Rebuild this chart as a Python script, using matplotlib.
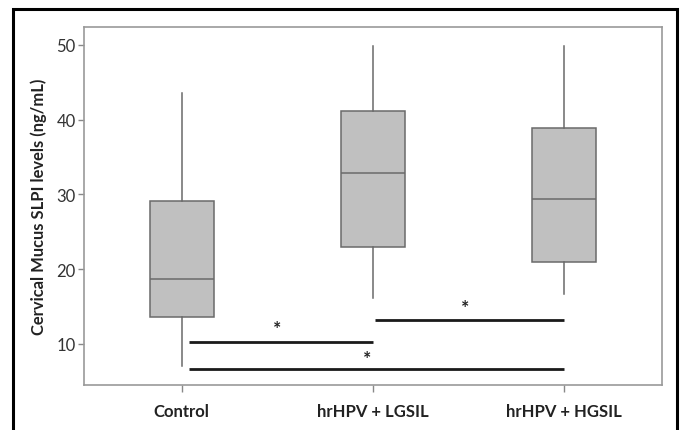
import matplotlib
matplotlib.use('Agg')
import matplotlib.pyplot as plt
from matplotlib.patches import Rectangle

# summary stats (ng/mL)
groups = ['Control', 'hrHPV + LGSIL', 'hrHPV + HGSIL']
whislo = [7.1, 16.2, 16.7]
q1 = [13.6, 23.0, 21.0]
med = [18.7, 32.9, 29.4]
q3 = [29.1, 41.2, 38.9]
whishi = [43.6, 49.8, 49.8]

# significance bars: (x start, x end, y level, star y)
sig_x0 = [1.04, 2.01, 1.04]
sig_x1 = [2.0, 3.0, 3.0]
sig_y = [10.2, 13.2, 6.6]
star_x = [1.5, 2.48, 1.97]
star_y = [12.0, 14.9, 8.0]

plt.rcParams['font.family'] = ['Lato', 'DejaVu Sans']

W, H = 682, 431
fig = plt.figure(figsize=(W / 100, H / 100), dpi=100)

# black outer frame (bottom edge runs off the image)
fig.patches.append(Rectangle((13 / W, -0.05), 664 / W, (H - 10) / H + 0.05,
                             transform=fig.transFigure, fill=False,
                             edgecolor='black', linewidth=2.2))

ax = fig.add_axes([84 / W, 45 / H, 578 / W, 358 / H])

stats = []
for i in range(len(groups)):
    stats.append({'label': groups[i], 'whislo': whislo[i], 'q1': q1[i],
                  'med': med[i], 'q3': q3[i], 'whishi': whishi[i], 'fliers': []})

gray = '#6a6a6a'
ax.bxp(stats, positions=[1, 2, 3], widths=0.335, patch_artist=True,
       showcaps=False,
       boxprops=dict(facecolor='#c0c0c0', edgecolor=gray, linewidth=1.1),
       medianprops=dict(color=gray, linewidth=1.1),
       whiskerprops=dict(color=gray, linewidth=1.1))

for i in range(len(sig_y)):
    ax.plot([sig_x0[i], sig_x1[i]], [sig_y[i], sig_y[i]], color='#1a1a1a',
            linewidth=2.0, solid_capstyle='butt')
    ax.text(star_x[i], star_y[i], '*', ha='center', va='center',
            fontsize=14, fontweight='bold', color='#222222')

ax.set_xlim(0.49, 3.51)
ax.set_ylim(4.5, 52.4)
ax.set_yticks([10, 20, 30, 40, 50])
ax.set_xticks([1, 2, 3])
ax.set_xticklabels(groups, fontsize=12, fontweight='bold', color='#222222')
ax.tick_params(axis='x', length=5, width=1, color='#888888', pad=8)
ax.tick_params(axis='y', length=4, width=1, color='#888888', labelsize=12,
               labelcolor='#333333', pad=2)
ax.set_ylabel('Cervical Mucus SLPI levels (ng/mL)', fontsize=11.9,
              fontweight='bold', color='#222222', labelpad=7)
for s in ax.spines.values():
    s.set_color('#999999')
    s.set_linewidth(1.2)

fig.savefig('out.png', dpi=100)
